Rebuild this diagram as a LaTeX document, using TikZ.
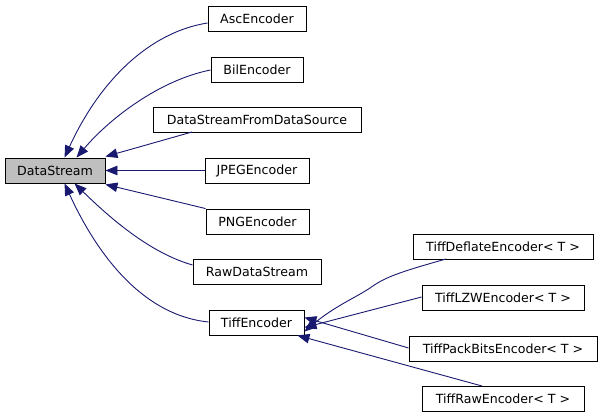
\documentclass[tikz,border=0pt]{standalone}
\usepackage{fontspec}
\setmainfont{DejaVu Sans}
\usetikzlibrary{arrows.meta}
\begin{document}
\begin{tikzpicture}[x=1pt,y=-1pt,
  cls/.style={draw=black,line width=0.9pt,fill=white,inner sep=0pt,font=\fontsize{12.6}{15}\selectfont},
  edge/.style={draw={rgb,255:red,25;green,25;blue,112},line width=0.9pt,-{Triangle[length=12pt,width=9.5pt,fill={rgb,255:red,25;green,25;blue,112}]}}]
\useasboundingbox (0,0) rectangle (603,417);
\newcommand{\cbox}[6]{\node[cls,minimum width={#4-#2},minimum height={#5-#3},#6] (#1) at ({(#2+#4)/2},{(#3+#5)/2})}
\cbox{ds}{5}{158}{105}{183}{fill={rgb,255:red,191;green,191;blue,191}}{DataStream};
\cbox{asc}{208}{6}{306}{31}{}{AscEncoder};
\cbox{bil}{211}{57}{303}{82}{}{BilEncoder};
\cbox{dsf}{153}{107}{361}{132}{}{DataStreamFromDataSource};
\cbox{jpeg}{205}{158}{309}{183}{}{JPEGEncoder};
\cbox{png}{206}{209}{309}{234}{}{PNGEncoder};
\cbox{raw}{193}{259}{321}{284}{}{RawDataStream};
\cbox{tiff}{209}{310}{304}{335}{}{TiffEncoder};
\cbox{tdef}{413}{234}{593}{259}{}{TiffDeflateEncoder< T >};
\cbox{tlzw}{422}{285}{584}{310}{}{TiffLZWEncoder< T >};
\cbox{tpack}{409}{336}{597}{361}{}{TiffPackBitsEncoder< T >};
\cbox{traw}{422}{386}{584}{411}{}{TiffRawEncoder< T >};
% edges
\draw[edge] (asc.west |- 0,23) .. controls (150,32) and (100,80) .. ([xshift=60pt]ds.north west);
\draw[edge] (bil.west |- 0,70) .. controls (160,80) and (110,118) .. ([xshift=72pt]ds.north west);
\draw[edge] (192,132) -- ([yshift=1pt]ds.north east);
\draw[edge] (jpeg.west) -- (ds.east);
\draw[edge] (png.north west) -- ([yshift=-1pt]ds.south east);
\draw[edge] (raw.west |- 0,265) .. controls (150,253) and (110,218) .. ([xshift=70pt]ds.south west);
\draw[edge] (tiff.west |- 0,322) .. controls (140,315) and (95,250) .. ([xshift=60pt]ds.south west);
\draw[edge] (446,259) .. controls (400,272) and (385,277) .. (370,288) .. controls (355,298) and (335,306) .. ([yshift=-9pt]tiff.east);
\draw[edge] (tlzw.west |- 0,297) -- ([yshift=-5pt]tiff.east);
\draw[edge] (tpack.west |- 0,348) -- ([yshift=5pt]tiff.east);
\draw[edge] (482,386) -- ([xshift=-7pt]tiff.south east);
\end{tikzpicture}
\end{document}
